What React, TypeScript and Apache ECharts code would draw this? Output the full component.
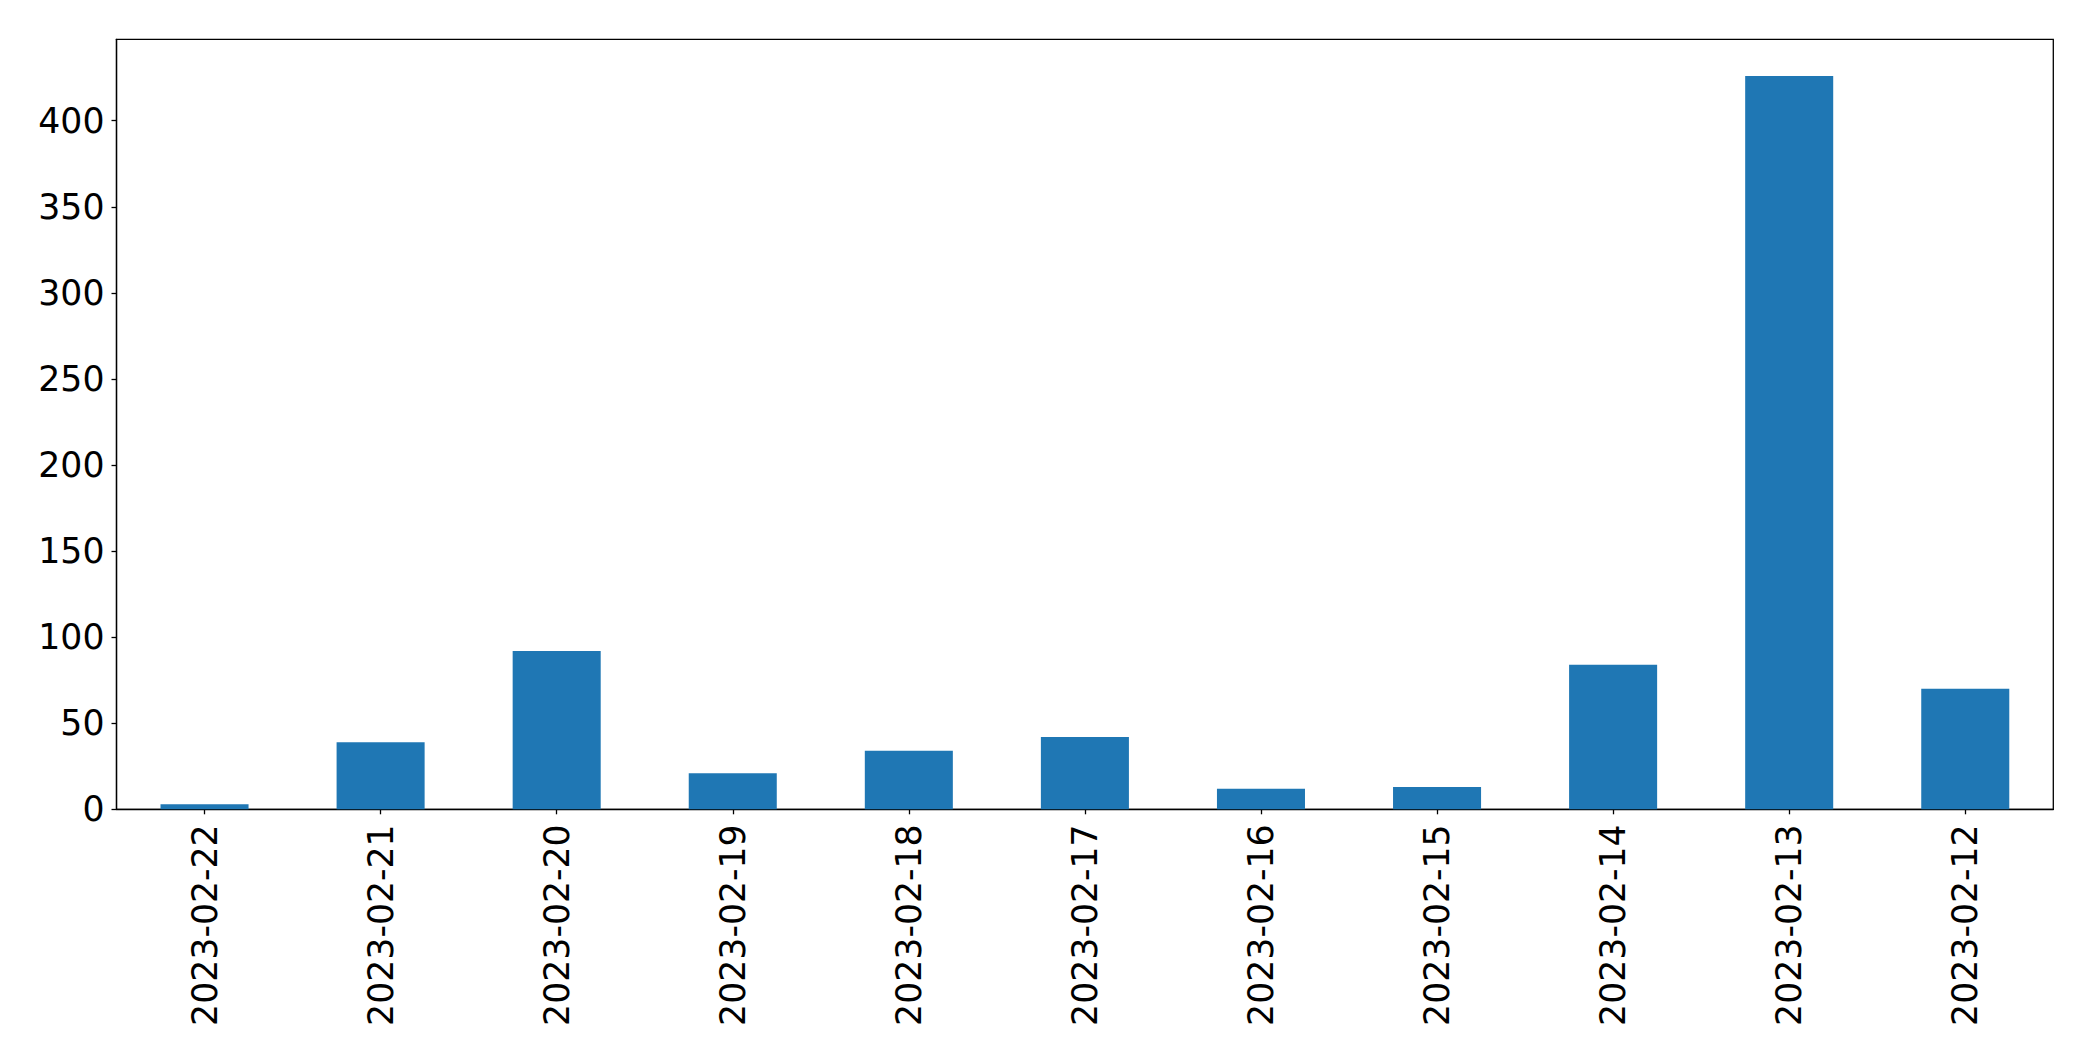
import React, { useEffect, useRef } from "react";
import * as echarts from "echarts";

const categories = [
  "2023-02-22",
  "2023-02-21",
  "2023-02-20",
  "2023-02-19",
  "2023-02-18",
  "2023-02-17",
  "2023-02-16",
  "2023-02-15",
  "2023-02-14",
  "2023-02-13",
  "2023-02-12",
];
const values = [3, 39, 92, 21, 34, 42, 12, 13, 84, 426, 70];
const yTicks = [0, 50, 100, 150, 200, 250, 300, 350, 400];

export default function App() {
  const ref = useRef<HTMLDivElement>(null);
  useEffect(() => {
    if (!ref.current) return;
    const chart = echarts.init(ref.current, undefined, { renderer: "svg" });
    const yMax = Math.max(...values) * 1.05;
    const font = "DejaVu Sans";
    chart.setOption({
      animation: false,
      backgroundColor: "#ffffff",
      grid: {
        left: 116.5,
        top: 39.3,
        right: 39.7,
        bottom: 251.7,
        show: true,
        borderColor: "#000000",
        borderWidth: 1.3,
        backgroundColor: "transparent",
      },
      xAxis: {
        type: "category",
        data: categories,
        boundaryGap: true,
        axisLine: { show: true, lineStyle: { color: "#000000", width: 1.3 } },
        axisTick: { show: true, alignWithLabel: true, length: 5, lineStyle: { color: "#000000", width: 1.3 } },
        axisLabel: {
          rotate: 90,
          margin: 15,
          fontSize: 34.7,
          fontFamily: font,
          color: "#000000",
          interval: 0,
        },
        splitLine: { show: false },
      },
      yAxis: {
        type: "value",
        min: 0,
        max: yMax,
        interval: 50,
        axisLine: { show: true, lineStyle: { color: "#000000", width: 1.3 } },
        axisTick: { show: true, length: 5, lineStyle: { color: "#000000", width: 1.3 }, customValues: yTicks },
        axisLabel: {
          margin: 12,
          fontSize: 34.7,
          fontFamily: font,
          color: "#000000",
          customValues: yTicks,
        },
        splitLine: { show: false },
      },
      series: [
        {
          type: "bar",
          data: values,
          barWidth: "50%",
          itemStyle: { color: "#1f77b4" },
        },
      ],
    });
    return () => chart.dispose();
  }, []);
  return (
    <div
      ref={ref}
      style={{ position: "fixed", left: 0, top: 0, width: 2093, height: 1061 }}
    />
  );
}
